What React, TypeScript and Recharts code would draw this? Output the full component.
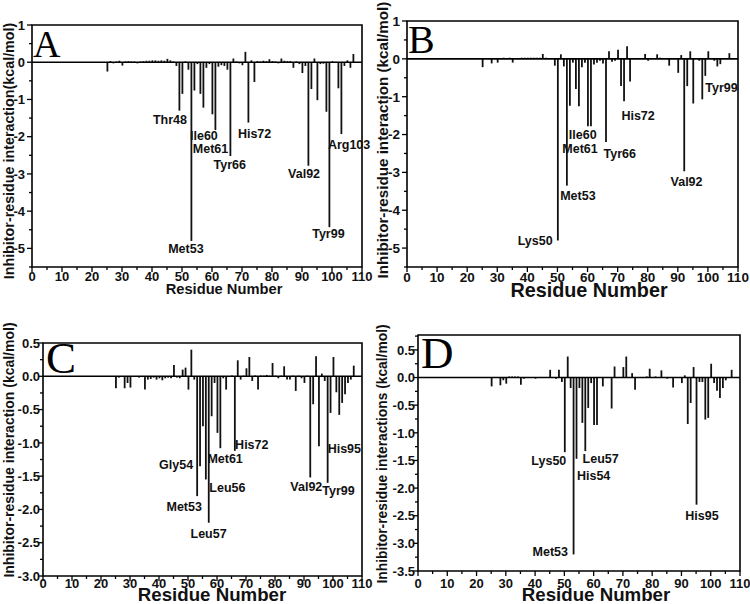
import React from 'react';
import { BarChart, Bar, XAxis, YAxis, ReferenceLine, ReferenceArea, ReferenceDot } from 'recharts';

const SANS = "'Liberation Sans', Arial, Helvetica, sans-serif";
const SERIF = "'Liberation Serif', 'Times New Roman', serif";

// residue numbers (x) shared by all four panels
const residues = [
  25, 26, 27, 28, 29, 30, 31, 32, 33, 34, 35, 36, 37, 38, 39, 40, 41, 42, 43, 44,
  45, 46, 47, 48, 49, 50, 51, 52, 53, 54, 55, 56, 57, 58, 59, 60, 61, 62, 63, 64,
  65, 66, 67, 68, 69, 70, 71, 72, 73, 74, 75, 76, 77, 78, 79, 80, 81, 82, 83, 84,
  85, 86, 87, 88, 89, 90, 91, 92, 93, 94, 95, 96, 97, 98, 99, 100, 101, 102, 103, 104,
  105, 106, 107,
];

// interaction energies, kcal/mol
const energyA = [
  -0.25, 0.03, -0.03, 0.02, 0.04, -0.09, 0.02, 0.03, 0.02, 0.02, -0.03, 0.02, 0.03, 0.04, 0.04, 0.05, 0.05, 0.04, 0.05, 0.04,
  0.09, 0.05, 0.02, -0.1, -1.3, -0.85, 0.02, -0.2, -4.8, -0.76, -0.05, -0.85, -1.22, -0.15, -0.05, -1.4, -1.82, -0.12, -0.08, -0.1,
  -0.2, -2.52, 0.1, 0.02, -0.03, -0.08, 0.28, -1.62, 0.05, -0.53, 0.03, 0.02, 0.04, 0.03, 0.08, 0.03, 0.02, -0.03, 0.1, 0.04,
  0.03, 0.03, -0.15, 0.02, -0.05, -0.29, -0.1, -2.78, -0.72, 0.1, -1.02, -0.05, -0.04, -1.33, -4.43, 0.03, 0.01, -0.7, -1.93, -0.1,
  0.05, -0.15, 0.22,
];
const energyB = [
  -0.22, 0.02, 0.02, -0.12, 0.02, -0.1, 0.02, 0.03, 0.02, 0.03, -0.1, 0.02, 0.02, 0.03, 0.03, 0.03, 0.03, 0.03, 0.03, 0.03,
  0.13, 0.03, 0.01, 0.01, -0.18, -4.8, 0.12, -0.2, -3.35, -1.24, -0.1, -0.8, -1.25, -0.22, -0.1, -1.78, -1.78, -0.15, -0.1, -0.05,
  -0.12, -2.2, 0.2, -0.08, -0.05, 0.24, -0.72, -1.12, 0.33, -0.6, 0.02, 0.01, 0.02, 0.02, 0.13, -0.05, 0.02, 0.02, 0.12, 0.03,
  0.01, 0.02, -0.18, 0.01, 0.02, -0.37, 0.1, -2.97, -0.72, 0.2, -1.18, 0.01, -0.05, -1.07, -0.45, 0.2, 0.01, -0.05, -0.2, -0.14,
  0.01, 0.01, 0.15,
];
const energyC = [
  -0.18, -0.02, -0.01, -0.18, -0.1, -0.17, -0.01, -0.01, -0.02, -0.01, -0.2, -0.05, -0.04, -0.02, -0.05, -0.03, -0.06, -0.03, -0.02, -0.03,
  0.17, -0.02, -0.03, 0.1, 0.13, -0.2, 0.4, -0.05, -1.8, -1.35, -0.75, -1.55, -2.2, -0.6, -0.1, -0.85, -1.08, -0.03, -0.2, -0.01,
  0.01, -1.12, 0.24, -0.05, 0.01, 0.12, 0.29, -0.07, 0.01, -0.2, 0.01, 0.01, 0.02, 0.01, 0.2, 0.01, -0.03, 0.01, 0.15, -0.05,
  -0.05, 0.01, -0.22, 0.01, -0.03, -0.1, 0.01, -1.52, -0.42, 0.3, -1.05, 0.04, -0.07, -1.6, -0.55, 0.29, -0.24, -0.58, -0.4, -0.27,
  -0.1, -0.05, 0.16,
];
const energyD = [
  -0.16, 0.01, 0.01, -0.14, -0.05, -0.11, 0.02, 0.02, 0.02, 0.02, -0.13, -0.02, 0.01, 0.01, 0.01, -0.02, 0.01, 0.01, 0.01, 0.01,
  0.14, 0.01, -0.02, 0.14, -0.08, -1.35, 0.38, -0.19, -3.2, -1.47, -0.19, -0.82, -1.33, -0.55, -0.1, -0.86, -0.86, 0.01, -0.16, 0.01,
  0.01, -0.56, 0.2, 0.01, 0.01, 0.19, 0.38, 0.01, 0.08, -0.22, 0.01, 0.01, 0.01, 0.02, 0.16, 0.01, 0.02, 0.01, 0.13, 0.01,
  -0.02, 0.01, -0.18, 0.01, 0.01, -0.1, 0.04, -0.84, -0.46, 0.19, -2.3, -0.08, -0.08, -0.76, -0.73, 0.25, -0.1, -0.24, -0.37, -0.19,
  -0.05, 0.01, 0.14,
];

// axis ticks
const xMajor = [0, 10, 20, 30, 40, 50, 60, 70, 80, 90, 100, 110];
const xMinor = [5, 15, 25, 35, 45, 55, 65, 75, 85, 95, 105];
const yMajorAB = [1, 0, -1, -2, -3, -4, -5];
const yMinorAB = [0.5, -0.5, -1.5, -2.5, -3.5, -4.5, -5.5];
const yMajorC = [0.5, 0, -0.5, -1, -1.5, -2, -2.5, -3];
const yMinorC = [0.25, -0.25, -0.75, -1.25, -1.75, -2.25, -2.75];
const yMajorD = [0.5, 0, -0.5, -1, -1.5, -2, -2.5, -3, -3.5];
const yMinorD = [0.75, 0.25, -0.25, -0.75, -1.25, -1.75, -2.25, -2.75, -3.25];

// residue annotations, placed in data coordinates
const notesA = [
  { name: 'Thr48', x: 46, y: -1.53 },
  { name: 'Met53', x: 51.3, y: -5.0 },
  { name: 'Ile60', x: 57.3, y: -1.96 },
  { name: 'Met61', x: 59.5, y: -2.31 },
  { name: 'Tyr66', x: 65.9, y: -2.74 },
  { name: 'His72', x: 74.2, y: -1.91 },
  { name: 'Val92', x: 90.7, y: -2.99 },
  { name: 'Tyr99', x: 98.8, y: -4.6 },
  { name: 'Arg103', x: 105.7, y: -2.2 },
];
const notesB = [
  { name: 'Ile60', x: 58.4, y: -2.0 },
  { name: 'Met61', x: 57.5, y: -2.37 },
  { name: 'Tyr66', x: 70.7, y: -2.5 },
  { name: 'His72', x: 76.8, y: -1.5 },
  { name: 'Met53', x: 56.8, y: -3.61 },
  { name: 'Lys50', x: 42.6, y: -4.79 },
  { name: 'Val92', x: 92.9, y: -3.25 },
  { name: 'Tyr99', x: 104.5, y: -0.75 },
];
const notesC = [
  { name: 'Gly54', x: 45.9, y: -1.32 },
  { name: 'Met61', x: 62.8, y: -1.23 },
  { name: 'His72', x: 72.0, y: -1.03 },
  { name: 'Leu56', x: 63.6, y: -1.67 },
  { name: 'Met53', x: 48.7, y: -1.95 },
  { name: 'Leu57', x: 57.1, y: -2.36 },
  { name: 'Val92', x: 90.8, y: -1.66 },
  { name: 'Tyr99', x: 101.9, y: -1.72 },
  { name: 'His95', x: 103.9, y: -1.08 },
];
const notesD = [
  { name: 'Lys50', x: 44.7, y: -1.51 },
  { name: 'Leu57', x: 62.4, y: -1.47 },
  { name: 'His54', x: 60.0, y: -1.78 },
  { name: 'Met53', x: 45.2, y: -3.15 },
  { name: 'His95', x: 97.0, y: -2.49 },
];

const toRows = (vals: number[]) => residues.map((r, i) => ({ res: r, v: vals[i] }));

const XTick = (props: any) => {
  const { x, y, payload, gap, size } = props;
  const major = xMajor.includes(payload.value);
  return (
    <g>
      <line x1={x} x2={x} y1={y} y2={y + (major ? 5 : 3)} stroke="#000" strokeWidth={1.3} />
      {major && (
        <text x={x} y={y + gap} dy="0.72em" textAnchor="middle" fontSize={size} fontWeight="bold" fontFamily={SANS} fill="#111">
          {payload.value}
        </text>
      )}
    </g>
  );
};

const YTick = (props: any) => {
  const { x, y, payload, majors, gap, size, decimals } = props;
  const major = majors.includes(payload.value);
  return (
    <g>
      <line x1={x} x2={x - (major ? 5 : 3)} y1={y} y2={y} stroke="#000" strokeWidth={1.3} />
      {major && (
        <text x={x - gap} y={y} dy="0.36em" textAnchor="end" fontSize={size} fontWeight="bold" fontFamily={SANS} fill="#111">
          {payload.value.toFixed(decimals)}
        </text>
      )}
    </g>
  );
};

const Panel = ({ p }: { p: any }) => {
  const data = toRows(p.values);
  const yTicks = [...p.yMajor, ...p.yMinor].sort((a, b) => b - a);
  const xTicks = [...xMajor, ...xMinor].sort((a, b) => a - b);
  return (
    <BarChart width={375} height={302} data={data} margin={p.margin}>
      <XAxis
        type="number"
        dataKey="res"
        domain={[0, 110]}
        allowDataOverflow
        ticks={xTicks}
        interval={0}
        height={p.xAxisHeight}
        tickSize={0}
        tickMargin={0}
        axisLine={false}
        tickLine={false}
        tick={<XTick gap={p.xTickGap} size={p.tickFont} />}
      />
      <YAxis
        type="number"
        domain={p.domain}
        allowDataOverflow
        ticks={yTicks}
        interval={0}
        width={p.yAxisWidth}
        tickSize={0}
        tickMargin={0}
        axisLine={false}
        tickLine={false}
        tick={<YTick majors={p.yMajor} gap={p.yTickGap} size={p.tickFont} decimals={p.decimals} />}
      />
      <Bar dataKey="v" fill="#111" barSize={1.8} isAnimationActive={false} />
      <ReferenceLine y={0} stroke="#000" strokeWidth={1.6} />
      <ReferenceArea x1={0} x2={110} y1={p.domain[0]} y2={p.domain[1]} fill="none" stroke="#000" strokeWidth={1.6} ifOverflow="visible" />
      {p.notes.map((n: any) => (
        <ReferenceDot
          key={n.name}
          x={n.x}
          y={n.y}
          r={0}
          ifOverflow="visible"
          label={{ value: n.name, position: 'center', fontSize: 12.5, fontWeight: 'bold', fontFamily: SANS, fill: '#111' }}
        />
      ))}
    </BarChart>
  );
};

const panels = [
  {
    id: 'A', left: 0, top: 0, values: energyA, notes: notesA, domain: [-5.5, 1], yMajor: yMajorAB, yMinor: yMinorAB, decimals: 0,
    margin: { top: 25, right: 13, bottom: 0, left: 0 }, yAxisWidth: 32, xAxisHeight: 35, xTickGap: 5, yTickGap: 7, tickFont: 13,
  },
  {
    id: 'B', left: 375, top: 0, values: energyB, notes: notesB, domain: [-5.5, 1], yMajor: yMajorAB, yMinor: yMinorAB, decimals: 0,
    margin: { top: 21, right: 12, bottom: 0, left: 0 }, yAxisWidth: 32, xAxisHeight: 35, xTickGap: 5, yTickGap: 7, tickFont: 13.5,
  },
  {
    id: 'C', left: 0, top: 302, values: energyC, notes: notesC, domain: [-3, 0.5], yMajor: yMajorC, yMinor: yMinorC, decimals: 1,
    margin: { top: 41, right: 13, bottom: 0, left: 0 }, yAxisWidth: 43, xAxisHeight: 28, xTickGap: 3, yTickGap: 3, tickFont: 13,
  },
  {
    id: 'D', left: 375, top: 302, values: energyD, notes: notesD, domain: [-3.5, 0.77], yMajor: yMajorD, yMinor: yMinorD, decimals: 1,
    margin: { top: 33, right: 10, bottom: 0, left: 0 }, yAxisWidth: 43, xAxisHeight: 33, xTickGap: 8, yTickGap: 3, tickFont: 13,
  },
];

// titles and panel letters drawn over the charts
const xTitles = [
  { x: 224, y: 289, size: 14.7 },
  { x: 589, y: 290, size: 19.8 },
  { x: 212, y: 594, size: 18.7 },
  { x: 596, y: 594, size: 18.7 },
];
const yTitles = [
  { text: 'Inhibitor-residue interaction(kcal/mol)', x: 9, y: 151, size: 14.3 },
  { text: 'Inhibitor-residue interaction (kcal/mol)', x: 383, y: 140, size: 15.2 },
  { text: 'Inhibitor-residue interaction (kcal/mol)', x: 9, y: 450, size: 14 },
  { text: 'Inhibitor-residue interactions (kcal/mol)', x: 382, y: 454, size: 13.8 },
];
const letters = [
  { x: 33, y: 57, size: 38 },
  { x: 408, y: 53, size: 40 },
  { x: 46, y: 373, size: 45 },
  { x: 421, y: 368, size: 45 },
];

export default function App() {
  return (
    <div style={{ position: 'absolute', left: 0, top: 0, width: 750, height: 604, background: '#fff' }}>
      {panels.map((p) => (
        <div key={p.id} style={{ position: 'absolute', left: p.left, top: p.top }}>
          <Panel p={p} />
        </div>
      ))}
      <svg width={750} height={604} style={{ position: 'absolute', left: 0, top: 0, pointerEvents: 'none' }}>
        {xTitles.map((t, i) => (
          <text key={'x' + i} x={t.x} y={t.y} dy="0.36em" textAnchor="middle" fontSize={t.size} fontWeight="bold" fontFamily={SANS} fill="#111">
            Residue Number
          </text>
        ))}
        {yTitles.map((t, i) => (
          <text
            key={'y' + i}
            x={t.x}
            y={t.y}
            dy="0.36em"
            textAnchor="middle"
            transform={`rotate(-90 ${t.x} ${t.y})`}
            fontSize={t.size}
            fontWeight="bold"
            fontFamily={SANS}
            fill="#111"
          >
            {t.text}
          </text>
        ))}
        {letters.map((l, i) => (
          <text key={'l' + i} x={l.x} y={l.y} fontSize={l.size} fontFamily={SERIF} fill="#000">
            {panels[i].id}
          </text>
        ))}
      </svg>
    </div>
  );
}
